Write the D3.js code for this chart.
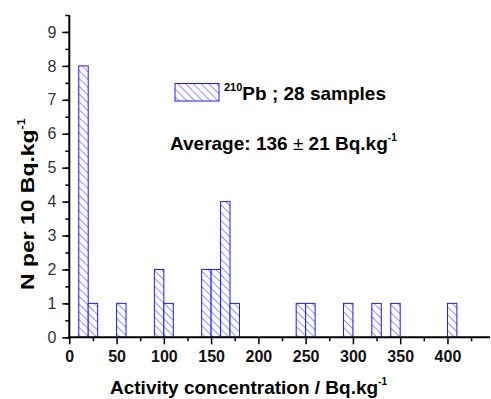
<!DOCTYPE html>
<html>
<head>
<meta charset="utf-8">
<script src="https://cdn.jsdelivr.net/npm/d3@7"></script>
<style>
  body { margin: 0; background: #fff; }
  svg { display: block; font-family: "Liberation Sans", Arial, sans-serif; }
</style>
</head>
<body>
<script>
// bin lower edges (Bq/kg), bin width 10
let binStarts = [10, 20, 50, 90, 100, 140, 150, 160, 170, 240, 250, 290, 320, 340, 400];
let counts = [8, 1, 1, 2, 1, 2, 2, 4, 1, 1, 1, 1, 1, 1, 1];
let binWidth = 10;
let xTicks = [0, 50, 100, 150, 200, 250, 300, 350, 400];
let yTicks = [0, 1, 2, 3, 4, 5, 6, 7, 8, 9];

let width = 491, height = 399;

const svg = d3.select("body")
  .append("svg")
  .attr("width", width)
  .attr("height", height);

// hatch pattern
const defs = svg.append("defs");
const pat = defs.append("pattern")
  .attr("id", "hatch")
  .attr("patternUnits", "userSpaceOnUse")
  .attr("width", 5.5)
  .attr("height", 5.5)
  .attr("patternTransform", "rotate(-45)");
pat.append("rect").attr("width", 5.5).attr("height", 5.5).attr("fill", "white");
pat.append("line")
  .attr("x1", 0).attr("y1", 0).attr("x2", 0).attr("y2", 5.5)
  .attr("stroke", "#2b2bff").attr("stroke-width", 1);

let x = d3.scaleLinear().domain([0, 445]).range([69.3, 490]);
let y = d3.scaleLinear().domain([0, 9.5]).range([337.3, 15]);

// bars
svg.selectAll("rect.bar")
  .data(binStarts)
  .enter()
  .append("rect")
  .attr("class", "bar")
  .attr("x", function(d) { return x(d); })
  .attr("y", function(d, i) { return y(counts[i]); })
  .attr("width", function(d) { return x(d + binWidth) - x(d); })
  .attr("height", function(d, i) { return y(0) - y(counts[i]); })
  .attr("fill", "url(#hatch)")
  .attr("stroke", "#1a1aff")
  .attr("stroke-width", 1);

// y axis
svg.append("g")
  .attr("transform", "translate(" + x(0) + ",0)")
  .call(d3.axisLeft(y).tickValues(d3.range(0, 9.6, 0.5)).tickSize(4).tickFormat(""))
  .call(g => g.selectAll(".tick line").attr("stroke-width", 1.5))
  .call(g => g.select(".domain").remove());
svg.append("g")
  .attr("transform", "translate(" + x(0) + ",0)")
  .call(d3.axisLeft(y).tickValues(yTicks).tickSize(7).tickPadding(6))
  .call(g => g.selectAll(".tick line").attr("stroke-width", 1.5))
  .call(g => g.select(".domain").attr("stroke-width", 2).attr("d", "M0," + y(0) + "V" + y(9.5)))
  .call(g => g.selectAll("text").attr("font-size", 16).attr("fill", "#333")
    .attr("font-family", "'Liberation Sans', Arial, sans-serif"));

// x axis
svg.append("g")
  .attr("transform", "translate(0," + y(0) + ")")
  .call(d3.axisBottom(x).tickValues(d3.range(25, 445, 50)).tickSize(4).tickFormat(""))
  .call(g => g.selectAll(".tick line").attr("stroke-width", 1.5))
  .call(g => g.select(".domain").remove());
svg.append("g")
  .attr("transform", "translate(0," + y(0) + ")")
  .call(d3.axisBottom(x).tickValues(xTicks).tickSize(7).tickPadding(6))
  .call(g => g.selectAll(".tick line").attr("stroke-width", 1.5))
  .call(g => g.select(".domain").attr("stroke-width", 2).attr("d", "M" + (x(0) - 1) + ",0H490"))
  .call(g => g.selectAll("text").attr("font-size", 16).attr("font-weight", "bold").attr("fill", "#111")
    .attr("font-family", "'Liberation Sans', Arial, sans-serif"));

// axis titles
let xt = svg.append("text")
  .attr("x", 110).attr("y", 394)
  .attr("font-size", 19).attr("font-weight", "bold");
xt.append("tspan").text("Activity concentration / Bq.kg");
xt.append("tspan").attr("font-size", 10).attr("dy", -9).text("-1");

let yt = svg.append("text")
  .attr("transform", "translate(34,290) rotate(-90) scale(1.24,1)")
  .attr("font-size", 18.5).attr("font-weight", "bold");
yt.append("tspan").text("N per 10 Bq.kg");
yt.append("tspan").attr("font-size", 10).attr("dy", -9).text("-1");

// legend
svg.append("rect")
  .attr("x", 175).attr("y", 83.5).attr("width", 44).attr("height", 17.5)
  .attr("fill", "url(#hatch)").attr("stroke", "#1a1aff").attr("stroke-width", 1);
let lt = svg.append("text")
  .attr("x", 224).attr("y", 100)
  .attr("font-size", 19).attr("font-weight", "bold");
lt.append("tspan").attr("font-size", 11).attr("dy", -9).text("210");
lt.append("tspan").attr("dy", 9).text("Pb ; 28 samples");

let at = svg.append("text")
  .attr("x", 170).attr("y", 150)
  .attr("font-size", 19).attr("font-weight", "bold");
at.append("tspan").text("Average: 136 ");
at.append("tspan").attr("font-weight", "normal").text("±");
at.append("tspan").text(" 21 Bq.kg");
at.append("tspan").attr("font-size", 10).attr("dy", -9).text("-1");
</script>
</body>
</html>
